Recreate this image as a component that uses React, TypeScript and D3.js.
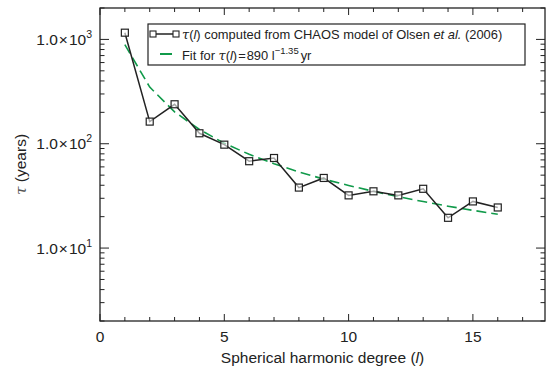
import React from "react";
import * as d3 from "d3";

// spherical harmonic degree l
const degrees = [1, 2, 3, 4, 5, 6, 7, 8, 9, 10, 11, 12, 13, 14, 15, 16];
// tau(l) from CHAOS, years
const tauValues = [1160, 163, 239, 126, 98, 68, 73, 38, 47, 32, 35, 32, 37, 19.5, 28, 24.5];
// fit 890 l^-1.35 at each degree (years)
const fitValues = [890, 349, 202, 137, 101, 79.2, 64.4, 53.7, 45.8, 39.8, 35.0, 31.1, 27.9, 25.2, 23.0, 21.1];
const yMajorTicks = [10, 100, 1000];
const yTickExponents = ["1", "2", "3"];
const xMajorTicks = [0, 5, 10, 15];

const width = 549;
const height = 367;
const margin = { top: 8, right: 4, bottom: 46, left: 100 };
const font = "'Liberation Sans', Arial, Helvetica, sans-serif";
const green = "#109a4a";
const ink = "#222";

const App = () => {
    const x0 = margin.left;
    const x1 = width - margin.right;
    const y0 = margin.top;
    const y1 = height - margin.bottom;

    const xScale = d3.scaleLinear().domain([0, 17.9]).range([x0, x1]);
    const yScale = d3.scaleLog().domain([2, 2000]).range([y1, y0]);

    const xMinor = d3.range(0, 18);
    const yMinor = yScale.ticks().filter((t) => yMajorTicks.indexOf(t) < 0);

    const tauLine = d3.line<number>()
        .x((d, i) => xScale(degrees[i]))
        .y((d) => yScale(d));

    const sq = 7;

    return (
        <svg width={width} height={height} style={{ position: "absolute", left: 0, top: 0 }}>
            <rect x={0} y={0} width={width} height={height} fill="#fff" />
            {/* frame */}
            <rect x={x0} y={y0} width={x1 - x0} height={y1 - y0} fill="none" stroke={ink} strokeWidth={1.3} />

            {/* x ticks, bottom and top */}
            {xMinor.map((t) => {
                const len = xMajorTicks.indexOf(t) >= 0 ? 7 : 4;
                return (
                    <g key={"xt" + t} stroke={ink} strokeWidth={1}>
                        <line x1={xScale(t)} x2={xScale(t)} y1={y1} y2={y1 - len} />
                        <line x1={xScale(t)} x2={xScale(t)} y1={y0} y2={y0 + len} />
                    </g>
                );
            })}
            {xMajorTicks.map((t) => (
                <text key={"xl" + t} x={xScale(t)} y={y1 + 21} textAnchor="middle"
                    fontFamily={font} fontSize={15.5} fill={ink}>{t}</text>
            ))}

            {/* y ticks, left and right */}
            {yMinor.map((t) => (
                <g key={"ym" + t} stroke={ink} strokeWidth={1}>
                    <line x1={x0} x2={x0 + 4.5} y1={yScale(t)} y2={yScale(t)} />
                    <line x1={x1} x2={x1 - 4.5} y1={yScale(t)} y2={yScale(t)} />
                </g>
            ))}
            {yMajorTicks.map((t, i) => (
                <g key={"yM" + t}>
                    <line x1={x0} x2={x0 + 9} y1={yScale(t)} y2={yScale(t)} stroke={ink} strokeWidth={1} />
                    <line x1={x1} x2={x1 - 9} y1={yScale(t)} y2={yScale(t)} stroke={ink} strokeWidth={1} />
                    <text x={x0 - 8} y={yScale(t) + 5.5} textAnchor="end" fontFamily={font} fontSize={15.5} fill={ink}>
                        1.0<tspan dx={1}>×</tspan><tspan dx={1}>10</tspan>
                        <tspan fontSize={10.5} dy={-7}>{yTickExponents[i]}</tspan>
                    </text>
                </g>
            ))}

            {/* axis titles */}
            <text x={x0 + (x1 - x0) / 2} y={height - 4} textAnchor="middle" fontFamily={font} fontSize={15.5} fill={ink}>
                Spherical harmonic degree (<tspan fontStyle="italic">l</tspan>)
            </text>
            <text transform={`translate(26,${(y0 + y1) / 2}) rotate(-90)`} textAnchor="middle"
                fontFamily={font} fontSize={15.5} fill={ink}>
                <tspan fontStyle="italic" fontFamily="'DejaVu Serif', serif" fill="#555">τ</tspan> (years)
            </text>

            {/* fit */}
            <path d={tauLine(fitValues) || ""} fill="none" stroke={green} strokeWidth={1.6} strokeDasharray="10,5" />
            {/* data */}
            <path d={tauLine(tauValues) || ""} fill="none" stroke={ink} strokeWidth={1.5} />
            {tauValues.map((v, i) => (
                <rect key={"p" + i} x={xScale(degrees[i]) - sq / 2} y={yScale(v) - sq / 2} width={sq} height={sq}
                    fill="#fff" fillOpacity={0.6} stroke={ink} strokeWidth={1.2} />
            ))}

            {/* legend */}
            <rect x={148} y={24} width={377} height={41} fill="#fff" stroke={ink} strokeWidth={1.2} />
            <line x1={153} x2={176} y1={34} y2={34} stroke={ink} strokeWidth={1.5} />
            <rect x={153 - 3} y={34 - 3} width={6} height={6} fill="#fff" stroke={ink} strokeWidth={1.1} />
            <rect x={176 - 3} y={34 - 3} width={6} height={6} fill="#fff" stroke={ink} strokeWidth={1.1} />
            <text x={182} y={39} fontFamily={font} fontSize={12.9} fill={ink}>
                <tspan fontStyle="italic" fontFamily="'DejaVu Serif', serif">τ</tspan>(<tspan fontStyle="italic">l</tspan>) computed from CHAOS model of Olsen <tspan fontStyle="italic">et al.</tspan> (2006)
            </text>
            <line x1={160} x2={172} y1={54} y2={54} stroke={green} strokeWidth={2} />
            <text x={182} y={60} fontFamily={font} fontSize={12.9} fill={ink}>
                Fit for <tspan fontStyle="italic" fontFamily="'DejaVu Serif', serif">τ</tspan>(<tspan fontStyle="italic">l</tspan>)<tspan dx={1}>=</tspan><tspan dx={1}>890 l</tspan><tspan fontSize={9.5} dy={-6}>−1.35</tspan><tspan dy={6} dx={2}>yr</tspan>
            </text>
        </svg>
    );
};

export default App;
